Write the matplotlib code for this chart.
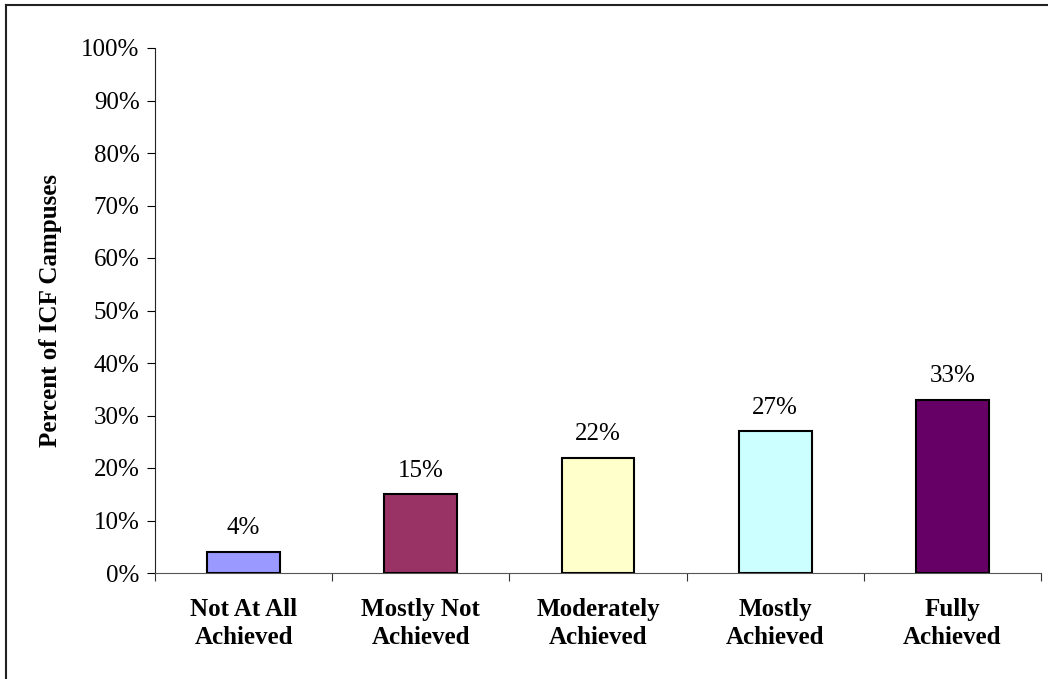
import matplotlib.pyplot as plt
from matplotlib.lines import Line2D

plt.rcParams['font.family'] = ['Liberation Serif', 'DejaVu Serif']

categories = ['Not At All\nAchieved', 'Mostly Not\nAchieved', 'Moderately\nAchieved',
              'Mostly\nAchieved', 'Fully\nAchieved']
values = [4, 15, 22, 27, 33]
colors = ['#9999FF', '#993366', '#FFFFCC', '#CCFFFF', '#660066']

fig = plt.figure(figsize=(10.48, 6.79), dpi=100)
# chart frame, only the top and left edges fall inside the image
fx, fy = 6 / 1048, 1 - 5 / 679
fig.lines.append(Line2D([fx, 1.0], [fy, fy], transform=fig.transFigure,
                        color='#222222', linewidth=1.5))
fig.lines.append(Line2D([fx, fx], [0.0, fy], transform=fig.transFigure,
                        color='#222222', linewidth=1.5))

ax = fig.add_axes([155 / 1048, 1 - 573 / 679, 886 / 1048, 525 / 679])

x = range(len(values))
ax.bar(x, values, width=0.41, color=colors, edgecolor='black', linewidth=1.5, zorder=3)

for i, v in enumerate(values):
    ax.annotate(f'{v}%', (i, v), xytext=(0, 9), textcoords='offset points',
                ha='center', va='bottom', fontsize=18)

ax.set_xlim(-0.5, len(values) - 0.5)
ax.set_ylim(0, 100)
ax.set_yticks(range(0, 101, 10))
ax.set_yticklabels([f'{t}%' for t in range(0, 101, 10)], fontsize=18)

# category labels between boundary ticks
ax.set_xticks([i - 0.5 for i in range(len(values) + 1)])
ax.set_xticklabels([])
ax.set_xticks(list(x), minor=True)
ax.set_xticklabels(categories, minor=True, fontsize=18, fontweight='bold',
                   linespacing=1.3)
ax.tick_params(axis='x', which='minor', length=0, pad=18)
ax.tick_params(axis='x', which='major', length=6, direction='out', color='#333333')
ax.tick_params(axis='y', length=6, direction='out', pad=5)

ax.set_ylabel('Percent of ICF Campuses', fontsize=18, fontweight='bold', labelpad=14)

for side in ['top', 'right']:
    ax.spines[side].set_visible(False)
ax.spines['bottom'].set_color('#555555')
ax.spines['left'].set_color('#222222')

fig.savefig('out.png', dpi=100)
